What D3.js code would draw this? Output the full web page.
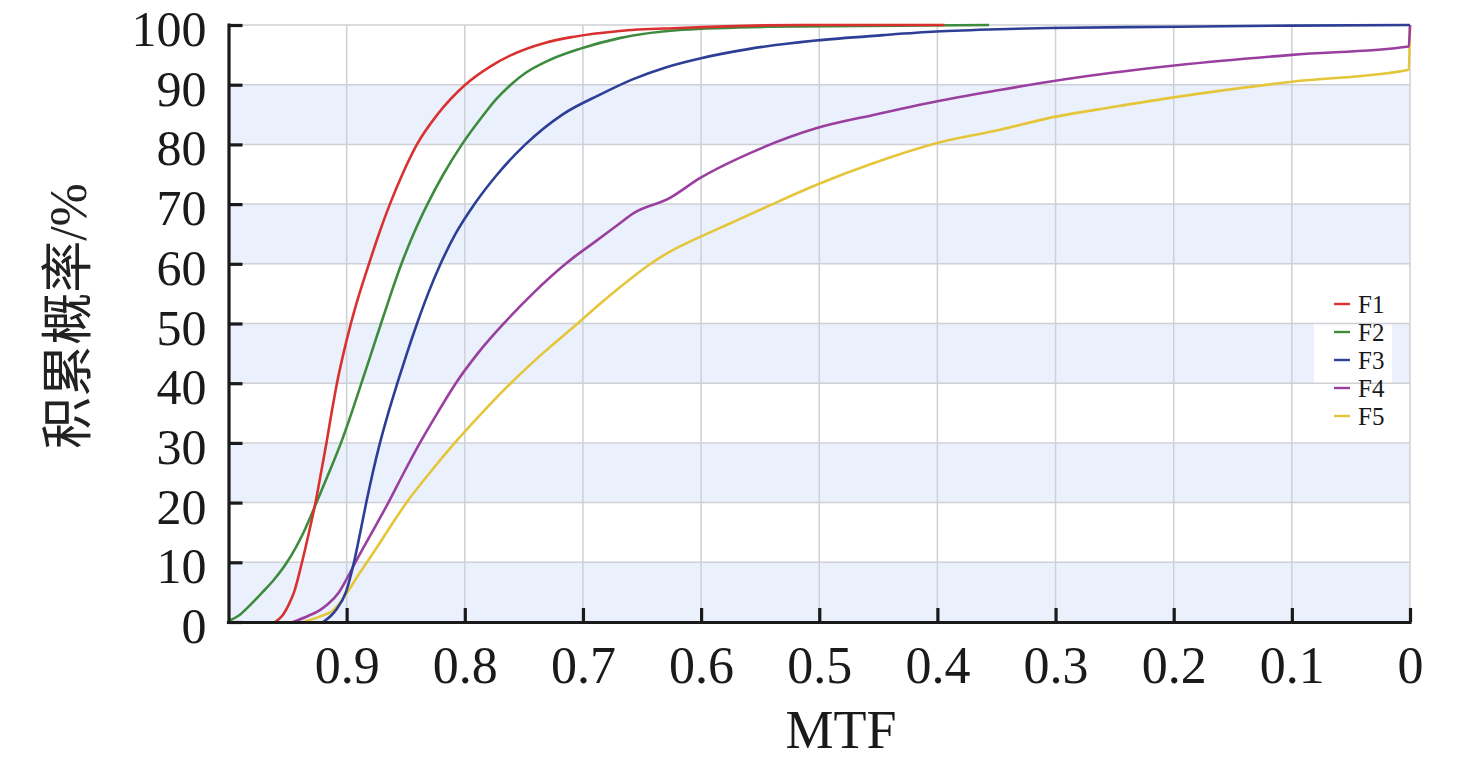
<!DOCTYPE html>
<html>
<head>
<meta charset="utf-8">
<script src="https://cdn.jsdelivr.net/npm/d3@7/dist/d3.min.js"></script>
<style>
  html, body { margin: 0; padding: 0; background: #fff; }
  svg { display: block; }
</style>
</head>
<body>
<svg id="chart" width="1476" height="765"></svg>
<script>
// ---- data (MTF, cumulative probability %) ----
const seriesNames = ["F1", "F2", "F3", "F4", "F5"];
const seriesColors = ["#d9312f", "#3d8b3d", "#2c3e96", "#9a3f9f", "#e5c53a"];

const F1 = [[0.9606,0],[0.9547,1],[0.9488,3],[0.9445,5],[0.9378,10],[0.9319,15],[0.9264,20],[0.9217,25],[0.9171,30],[0.9128,35],[0.9082,40],[0.9027,45],[0.8964,50],[0.8892,55],[0.8811,60],[0.8727,65],[0.8634,70],[0.8528,75],[0.8405,80],[0.8232,85],[0.7996,90],[0.7789,93],[0.7603,95],[0.7324,97],[0.7087,98],[0.6690,99],[0.6183,99.5],[0.5169,100],[0.394,100]];
const F2 = [[0.9986,0.3],[0.9919,1],[0.9809,3],[0.9712,5],[0.9619,7],[0.9505,10],[0.9365,15],[0.9255,20],[0.9150,25],[0.9048,30],[0.8959,35],[0.8875,40],[0.8792,45],[0.8709,50],[0.8625,55],[0.8536,60],[0.8434,65],[0.8316,70],[0.8181,75],[0.8024,80],[0.7839,85],[0.7738,87.5],[0.7611,90],[0.7484,92],[0.7298,94],[0.7028,96],[0.6690,97.8],[0.6158,99.2],[0.5447,99.7],[0.432,99.9],[0.3563,100]];
const F3 = [[0.9200,0],[0.9135,1],[0.9090,2],[0.9006,5],[0.8938,10],[0.8885,15],[0.8834,20],[0.8779,25],[0.8718,30],[0.8648,35],[0.8571,40],[0.8490,45],[0.8404,50],[0.8311,55],[0.8205,60],[0.8079,65],[0.7918,70],[0.7724,75],[0.7487,80],[0.7174,85],[0.686,88.3],[0.658,90.9],[0.630,92.9],[0.601,94.4],[0.559,96.0],[0.503,97.4],[0.446,98.3],[0.401,98.9],[0.348,99.3],[0.306,99.5],[0.196,99.7],[0.100,99.9],[0,100]];
const F4 = [[0.9454,0],[0.9327,1],[0.9226,2],[0.9158,3],[0.9065,5],[0.8989,7.6],[0.8926,10],[0.8871,12],[0.8786,15],[0.8647,20],[0.8516,25],[0.8380,30],[0.8232,35],[0.8076,40],[0.7890,45],[0.7670,50],[0.7425,55],[0.7146,60],[0.7070,61.2],[0.6876,64],[0.6707,66.5],[0.6571,68.5],[0.6267,71],[0.6014,74.3],[0.5591,78.5],[0.5027,82.7],[0.4551,84.9],[0.4010,87.2],[0.3477,89.1],[0.3055,90.5],[0.2522,92],[0.1956,93.3],[0.1001,95],[0.001,96.4],[0,100]];
const F5 = [[0.937,0],[0.923,0.9],[0.911,2],[0.900,4.8],[0.889,8.2],[0.8740,12.6],[0.8613,16.5],[0.8493,20],[0.8296,25],[0.8085,30],[0.7856,35],[0.7611,40],[0.7341,45],[0.7045,50],[0.6850,53.4],[0.6577,57.8],[0.6428,60],[0.6267,62],[0.6064,64],[0.5785,66.5],[0.5472,69.3],[0.5027,73.2],[0.455,76.8],[0.401,80.2],[0.348,82.4],[0.306,84.4],[0.250,86.3],[0.196,88],[0.100,90.5],[0.001,92.5],[0,100]];
const seriesData = [F1, F2, F3, F4, F5];

const xTicks = [0.9, 0.8, 0.7, 0.6, 0.5, 0.4, 0.3, 0.2, 0.1, 0];
const xTickLabels = ["0.9","0.8","0.7","0.6","0.5","0.4","0.3","0.2","0.1","0"];
const yTicks = [0, 10, 20, 30, 40, 50, 60, 70, 80, 90, 100];
const bandStarts = [0, 20, 40, 60, 80];
const xTitle = "MTF";
const yTitle = "积累概率/%";

(function () {
// ---- layout ----
const svg = d3.select("#chart");
const pLeft = 228.5, pRight = 1410, pTop = 25, pBottom = 622;
const x = d3.scaleLinear().domain([1, 0]).range([pLeft, pRight]);
const y = d3.scaleLinear().domain([0, 100]).range([pBottom, pTop]);
const serif = "'Liberation Serif', 'Times New Roman', serif";

// bands
svg.append("g").selectAll("rect").data(bandStarts).join("rect")
  .attr("x", pLeft).attr("width", pRight - pLeft)
  .attr("y", d => y(d + 10)).attr("height", d => y(d) - y(d + 10))
  .attr("fill", "#eaf1fc");

// legend background
const legX = 1314, legY = 288, legW = 78, legH = 144;
svg.append("rect").attr("x", legX).attr("y", legY).attr("width", legW).attr("height", legH).attr("fill", "#fff");

// grid
const grid = svg.append("g").attr("stroke", "#cfd0d6").attr("stroke-width", 1.5);
grid.selectAll("line.v").data(xTicks).join("line").attr("class", "v")
  .attr("x1", d => x(d)).attr("x2", d => x(d)).attr("y1", pTop).attr("y2", pBottom);
grid.selectAll("line.h").data(yTicks.filter(d => d > 0)).join("line").attr("class", "h")
  .attr("x1", pLeft).attr("x2", pRight).attr("y1", d => y(d)).attr("y2", d => y(d));

// lines
const line = d3.line().x(d => x(d[0])).y(d => y(d[1])).curve(d3.curveMonotoneX);
const order = [4, 3, 2, 1, 0];
svg.append("g").selectAll("path").data(order).join("path")
  .attr("d", i => line(seriesData[i]))
  .attr("fill", "none")
  .attr("stroke", i => seriesColors[i])
  .attr("stroke-width", 2.6)
  .attr("stroke-linejoin", "round");

// axes
const xAxis = d3.axisBottom(x).tickValues(xTicks).tickFormat((d, i) => xTickLabels[i])
  .tickSizeInner(-14).tickSizeOuter(0).tickPadding(24);
const gx = svg.append("g").attr("transform", `translate(0,${pBottom})`).call(xAxis);
const yAxis = d3.axisLeft(y).tickValues(yTicks).tickFormat(d3.format("d"))
  .tickSizeInner(-14).tickSizeOuter(0).tickPadding(22);
const gy = svg.append("g").attr("transform", `translate(${pLeft},0)`).call(yAxis);
[gx, gy].forEach(g => {
  g.select(".domain").attr("stroke", "#1a1a1a").attr("stroke-width", 3.2);
  g.selectAll(".tick line").attr("stroke", "#1a1a1a").attr("stroke-width", 3.2);
  g.selectAll(".tick text").attr("fill", "#1a1a1a").style("font-family", serif);
});
gx.selectAll(".tick text").style("font-size", "52px");
gy.selectAll(".tick text").style("font-size", "50px").attr("dy", "0.41em");
gx.select(".domain").attr("d", `M${pLeft - 1.6},0.5H${pRight + 1.6}`);
gy.select(".domain").attr("d", `M0.5,${pBottom + 1.6}V${pTop - 1.6}`);

// titles
svg.append("text").attr("x", 841).attr("y", 748)
  .attr("text-anchor", "middle").attr("fill", "#1a1a1a")
  .style("font-family", serif).style("font-size", "54px").text(xTitle);
svg.append("text").attr("transform", "translate(86,316) rotate(-90)")
  .attr("text-anchor", "middle").attr("fill", "#222")
  .style("font-family", "'Liberation Serif', 'Noto Sans CJK SC', serif").style("font-size", "52px")
  .text(yTitle);

// legend
const items = svg.append("g").selectAll("g").data(seriesNames).join("g")
  .attr("transform", (d, i) => `translate(${legX + 20},${304 + i * 28})`);
items.append("line").attr("x1", 0).attr("x2", 16).attr("y1", 0).attr("y2", 0)
  .attr("stroke", (d, i) => seriesColors[i]).attr("stroke-width", 2.4);
items.append("text").attr("x", 24).attr("y", 0).attr("dy", "0.34em")
  .attr("fill", "#1a1a1a").style("font-family", serif).style("font-size", "25px")
  .text(d => d);
})();
</script>
</body>
</html>
